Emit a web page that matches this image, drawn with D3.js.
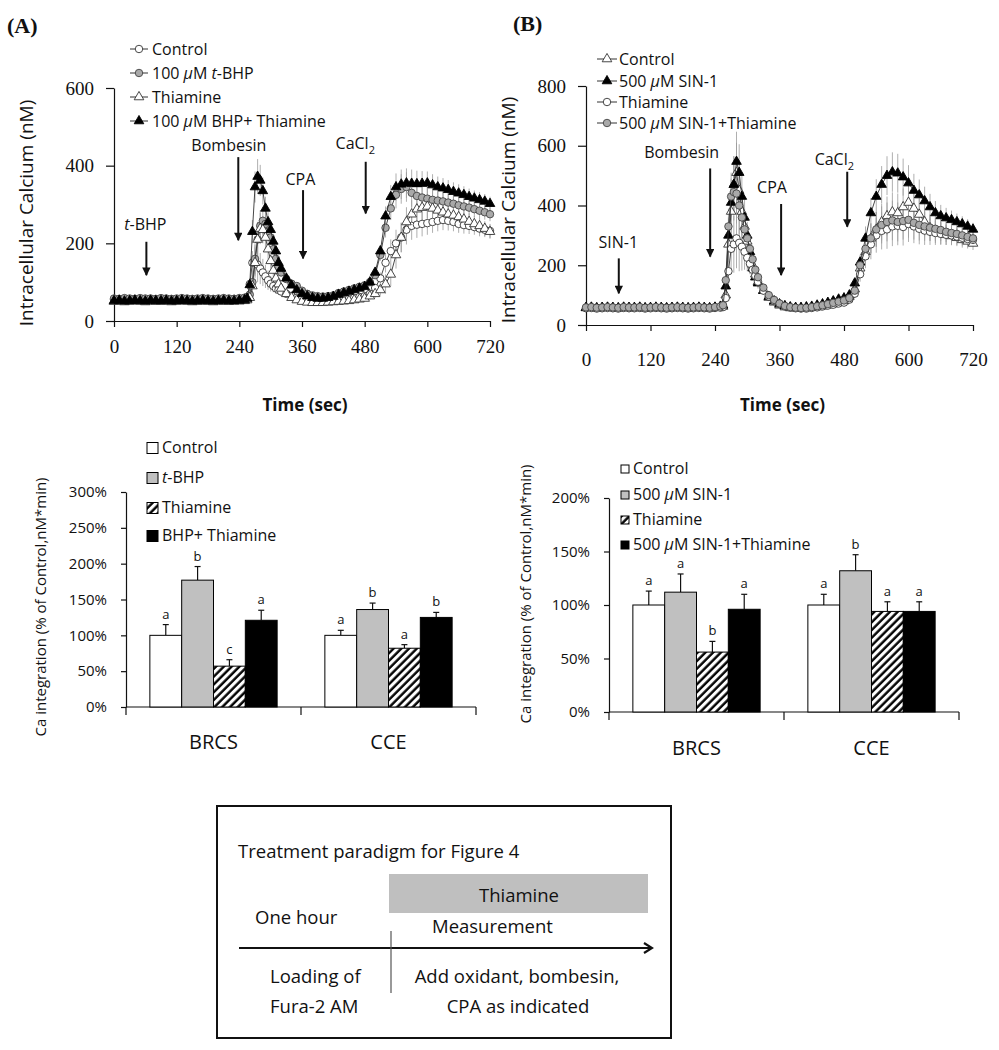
<!DOCTYPE html>
<html>
<head>
<meta charset="utf-8">
<title>Figure 4</title>
<script src="https://d3js.org/d3.v7.min.js"></script>
<style>
    body { margin: 0; background: #fff; }
    text { font-family: "Open Sans", sans-serif; fill: #111; }
</style>
</head>
<body>
<div id="fig"></div>
<script>
// ---- time course data (seconds) ----
var time = [0,10,20,30,40,50,60,70,80,90,
    100,110,120,130,140,150,160,170,180,190,
    200,210,220,230,240,250,255,260,265,270,
    275,280,285,290,295,300,305,310,315,320,
    330,340,350,360,370,380,390,400,410,420,
    430,440,450,460,470,480,490,500,510,520,
    530,540,550,560,570,580,590,600,610,620,
    630,640,650,660,670,680,690,700,710,720];
var xTicks = [0,120,240,360,480,600,720];

// panel A (nM)
var ctrlA = [55,56,54,55,57,55,54,56,55,55,
    56,54,55,57,55,54,55,56,55,54,
    56,55,55,57,56,58,60,95,150,155,
    145,135,125,115,105,96,90,84,80,76,
    70,65,60,57,55,54,53,53,54,55,
    56,57,58,60,62,64,70,85,110,150,
    180,200,215,235,245,248,250,252,255,258,
    260,258,255,250,247,245,242,238,235,232];
var bhpA = [58,57,59,58,57,59,58,58,57,59,
    58,57,58,59,58,57,58,59,58,57,
    58,59,58,57,59,60,62,68,100,160,
    210,245,258,250,230,215,185,160,140,125,
    108,96,90,78,70,66,64,63,64,66,
    72,76,80,84,88,92,100,118,170,240,
    290,325,340,345,330,322,318,315,312,310,
    308,305,302,298,295,292,288,284,280,275];
var thiaA = [50,51,49,50,52,50,49,51,50,50,
    51,49,50,52,50,49,50,51,50,49,
    51,50,50,52,51,52,54,60,90,150,
    210,238,235,215,185,155,130,110,95,84,
    70,60,54,50,48,47,47,47,48,49,
    50,51,52,54,56,58,64,70,80,95,
    120,170,215,255,275,288,292,295,290,285,
    280,275,272,268,262,256,250,245,238,230];
var bhpThiaA = [52,53,51,52,53,52,51,53,52,52,
    53,51,52,53,52,51,52,53,52,51,
    52,53,52,51,53,54,58,93,230,345,
    372,362,335,290,255,235,205,180,150,135,
    110,92,80,70,64,60,58,58,60,63,
    68,72,76,80,84,88,100,125,180,270,
    320,345,352,355,354,353,354,355,350,345,
    342,338,333,329,325,320,316,312,308,302];
var semA = [3,3,3,3,3,3,3,3,3,3,
    3,3,3,3,3,3,3,3,3,3,
    3,3,3,3,3,4,6,15,30,40,
    45,40,35,30,25,20,16,14,12,10,
    8,7,6,5,5,5,5,5,5,5,
    6,6,7,7,8,8,9,10,15,25,
    30,35,38,38,36,34,32,30,28,27,
    26,25,24,23,22,21,20,20,19,18];

// panel B (nM)
var ctrlB = [57,58,56,57,58,57,56,58,57,57,
    58,56,57,58,57,56,57,58,57,56,
    57,58,57,56,58,60,62,100,270,380,
    470,510,450,380,330,280,235,200,170,145,
    115,92,76,66,60,57,56,56,57,58,
    60,63,66,70,75,80,95,120,190,245,
    290,320,345,365,378,375,395,410,390,370,
    345,325,315,308,302,298,292,285,280,273];
var sinB = [58,59,57,58,59,58,57,59,58,58,
    59,57,58,59,58,57,58,59,58,57,
    58,59,58,57,59,62,66,130,300,410,
    470,547,510,430,360,300,245,190,160,140,
    115,95,80,70,64,60,58,58,60,62,
    66,70,75,80,86,90,100,140,210,290,
    375,430,470,500,512,508,495,475,450,435,
    415,395,375,365,358,352,345,338,330,320];
var thiaB = [56,57,55,56,57,56,55,57,56,56,
    57,55,56,57,56,55,56,57,56,55,
    56,57,56,55,57,58,60,90,180,255,
    270,290,275,262,245,225,205,185,165,145,
    115,95,80,70,62,58,56,55,55,57,
    59,62,65,68,72,75,85,105,170,230,
    270,300,315,320,330,332,328,338,330,322,
    316,312,308,305,302,300,296,292,288,285];
var sinThiaB = [59,60,58,59,60,59,58,60,59,59,
    60,58,59,60,59,58,59,60,59,58,
    59,60,59,58,60,62,66,150,330,430,
    445,440,400,360,320,290,255,220,185,160,
    125,100,84,72,64,60,58,57,58,60,
    63,66,70,74,78,82,90,115,200,255,
    290,320,335,345,350,345,348,352,342,335,
    330,326,322,318,312,308,305,300,295,290];
var semB = [4,4,4,4,4,4,4,4,4,4,
    4,4,4,4,4,4,4,4,4,4,
    4,4,4,4,4,5,10,30,60,80,
    95,100,95,80,60,45,35,28,22,18,
    14,12,10,8,7,6,6,6,6,6,
    7,7,8,8,9,10,11,14,25,40,
    50,58,62,65,66,65,62,60,56,52,
    48,44,40,37,34,31,28,26,24,22];

var namesLineA = ["Control", "100 μM t-BHP", "Thiamine", "100 μM BHP+ Thiamine"];
var namesLineB = ["Control", "500 μM SIN-1", "Thiamine", "500 μM SIN-1+Thiamine"];

// ---- bar data (% of control) ----
var barGroups = ["BRCS", "CCE"];
var barNamesA = ["Control", "t-BHP", "Thiamine", "BHP+ Thiamine"];
var barBRCS_A = [100, 177, 57, 121];
var barCCE_A = [100, 136, 82, 125];
var errBRCS_A = [15, 19, 9, 14];
var errCCE_A = [7, 9, 5, 7];
var letBRCS_A = ["a", "b", "c", "a"];
var letCCE_A = ["a", "b", "a", "b"];

var barNamesB = ["Control", "500 μM SIN-1", "Thiamine", "500 μM SIN-1+Thiamine"];
var barBRCS_B = [100, 112, 56, 96];
var barCCE_B = [100, 132, 94, 94];
var errBRCS_B = [13, 17, 10, 14];
var errCCE_B = [10, 15, 9, 9];
var letBRCS_B = ["a", "a", "b", "a"];
var letCCE_B = ["a", "b", "a", "a"];

// ---- svg ----
var svg = d3.select("#fig").append("svg")
    .attr("width", 999)
    .attr("height", 1050);
svg.append("rect").attr("width", 999).attr("height", 1050).attr("fill", "#fff");

var defs = svg.append("defs");
defs.append("marker")
    .attr("id", "arrow")
    .attr("viewBox", "0 0 10 10")
    .attr("refX", 9).attr("refY", 5)
    .attr("markerWidth", 4.5).attr("markerHeight", 4.2)
    .attr("orient", "auto")
    .append("path").attr("d", "M0,0L10,5L0,10z").attr("fill", "#111");
// open chevron head for the time line in the box
defs.append("marker")
    .attr("id", "chev")
    .attr("viewBox", "0 0 12 12")
    .attr("refX", 10).attr("refY", 6)
    .attr("markerWidth", 12).attr("markerHeight", 12)
    .attr("markerUnits", "userSpaceOnUse")
    .attr("orient", "auto")
    .append("path").attr("d", "M2,1L10,6L2,11")
    .attr("fill", "none").attr("stroke", "#111").attr("stroke-width", 2.2);

var hatch = defs.append("pattern")
    .attr("id", "hatch")
    .attr("patternUnits", "userSpaceOnUse")
    .attr("width", 5.5).attr("height", 5.5)
    .attr("patternTransform", "rotate(45)");
hatch.append("rect").attr("width", 5.5).attr("height", 5.5).attr("fill", "#fff");
hatch.append("line").attr("x1", 1.5).attr("x2", 1.5).attr("y1", 0).attr("y2", 5.5)
    .attr("stroke", "#000").attr("stroke-width", 2.4);

// italic t in t-BHP and italic mu
function richText(sel, str) {
    var parts = [];
    var buf = "";
    for (var i = 0; i < str.length; i++) {
        var isT = str.substr(i, 5) === "t-BHP" && (i === 0 || str[i - 1] === " ");
        if (str[i] === "μ" || isT) {
            if (buf) parts.push({ t: buf, it: false });
            buf = "";
            parts.push({ t: str[i], it: true });
        } else {
            buf += str[i];
        }
    }
    if (buf) parts.push({ t: buf, it: false });
    parts.forEach(function(p) {
        sel.append("tspan").text(p.t).attr("font-style", p.it ? "italic" : null);
    });
}

var markStyle = {
    open: { fill: "#fff", stroke: "#333" },
    gray: { fill: "#a9a9a9", stroke: "#444" },
    black: { fill: "#000", stroke: "#000" }
};
function symbolPath(shape) {
    return d3.symbol()
        .type(shape === "circle" ? d3.symbolCircle : d3.symbolTriangle)
        .size(shape === "circle" ? 44 : 40)();
}

function linePanel(cfg) {
    var x = d3.scaleLinear().domain([0, 720]).range([cfg.left, cfg.right]);
    var y = d3.scaleLinear().domain([0, cfg.yMax]).range([cfg.bottom, cfg.top]);
    var g = svg.append("g");

    var xAxis = g.append("g")
        .attr("transform", "translate(0," + cfg.bottom + ")")
        .call(d3.axisBottom(x).tickValues(xTicks).tickSize(6).tickSizeOuter(0).tickPadding(cfg.xPad));
    var yAxis = g.append("g")
        .attr("transform", "translate(" + cfg.left + ",0)")
        .call(d3.axisLeft(y).tickValues(cfg.yTicks).tickSize(8).tickSizeOuter(0).tickPadding(12));
    [xAxis, yAxis].forEach(function(a) {
        a.selectAll("path, line").attr("stroke", "#111").attr("stroke-width", 1.2);
        a.selectAll("text")
            .style("font-family", "'Liberation Serif', serif")
            .attr("font-size", 19).attr("fill", "#111");
    });

    // error bars
    cfg.series.forEach(function(s) {
        g.append("g").selectAll("line")
            .data(s.vals)
            .enter().append("line")
            .attr("x1", function(d, i) { return x(time[i]); })
            .attr("x2", function(d, i) { return x(time[i]); })
            .attr("y1", function(d, i) { return y(d - cfg.sem[i]); })
            .attr("y2", function(d, i) { return y(d + cfg.sem[i]); })
            .attr("stroke", "#9a9a9a").attr("stroke-width", 0.8);
    });

    var line = d3.line()
        .x(function(d, i) { return x(time[i]); })
        .y(function(d) { return y(d); });

    cfg.series.forEach(function(s) {
        g.append("path")
            .datum(s.vals)
            .attr("d", line)
            .attr("fill", "none")
            .attr("stroke", "#333")
            .attr("stroke-width", 0.9);
        var st = markStyle[s.style];
        g.append("g").selectAll("path")
            .data(s.vals)
            .enter().append("path")
            .attr("d", symbolPath(s.shape))
            .attr("transform", function(d, i) { return "translate(" + x(time[i]) + "," + y(d) + ")"; })
            .attr("fill", st.fill)
            .attr("stroke", st.stroke)
            .attr("stroke-width", 0.9);
    });

    // legend
    cfg.series.forEach(function(s, i) {
        var ly = cfg.legY[i];
        var st = markStyle[s.style];
        g.append("line")
            .attr("x1", cfg.legX[0]).attr("x2", cfg.legX[1])
            .attr("y1", ly).attr("y2", ly)
            .attr("stroke", "#333").attr("stroke-width", 1);
        g.append("path")
            .attr("d", symbolPath(s.shape))
            .attr("transform", "translate(" + (cfg.legX[0] + cfg.legX[1]) / 2 + "," + ly + ")")
            .attr("fill", st.fill).attr("stroke", st.stroke).attr("stroke-width", 0.9);
        var t = g.append("text")
            .attr("x", cfg.legX[2]).attr("y", ly + 5.5)
            .attr("font-size", 16);
        richText(t, s.name);
    });

    // event arrows
    cfg.events.forEach(function(e) {
        g.append("line")
            .attr("x1", x(e.t)).attr("x2", x(e.t))
            .attr("y1", y(e.top)).attr("y2", y(e.bot))
            .attr("stroke", "#111").attr("stroke-width", 2)
            .attr("marker-end", "url(#arrow)");
        var t = g.append("text")
            .attr("x", x(e.tx)).attr("y", y(e.ty))
            .attr("text-anchor", "middle")
            .attr("font-size", 16);
        if (e.label === "CaCl2") {
            t.append("tspan").text("CaCl");
            t.append("tspan").text("2").attr("font-size", 11).attr("dy", 5);
        } else {
            richText(t, e.label);
        }
    });

    g.append("text")
        .attr("transform", "translate(" + cfg.yLab[0] + "," + cfg.yLab[1] + ") rotate(-90)")
        .attr("text-anchor", "middle")
        .attr("font-size", 19)
        .text("Intracellular Calcium (nM)");
    g.append("text")
        .attr("x", (cfg.left + cfg.right) / 2 + 3).attr("y", 411)
        .attr("text-anchor", "middle")
        .attr("font-size", 17).attr("font-weight", "bold")
        .text("Time (sec)");
    g.append("text")
        .attr("x", cfg.tag[0]).attr("y", cfg.tag[1])
        .style("font-family", "'Liberation Serif', serif")
        .attr("font-size", 22).attr("font-weight", "bold")
        .text(cfg.tagText);
}

linePanel({
    left: 114, right: 490, top: 88, bottom: 321, yMax: 600,
    yTicks: [0, 200, 400, 600], xPad: 13, sem: semA,
    series: [
        { name: namesLineA[0], vals: ctrlA, shape: "circle", style: "open" },
        { name: namesLineA[1], vals: bhpA, shape: "circle", style: "gray" },
        { name: namesLineA[2], vals: thiaA, shape: "triangle", style: "open" },
        { name: namesLineA[3], vals: bhpThiaA, shape: "triangle", style: "black" }
    ],
    legX: [130, 148, 152], legY: [49, 73, 97, 121],
    events: [
        { label: "t-BHP", t: 62, top: 204, bot: 118, tx: 60, ty: 234 },
        { label: "Bombesin", t: 238, top: 422, bot: 208, tx: 220, ty: 437 },
        { label: "CPA", t: 362, top: 337, bot: 161, tx: 357, ty: 350 },
        { label: "CaCl2", t: 482, top: 410, bot: 277, tx: 462, ty: 443 }
    ],
    yLab: [33, 213], tag: [7, 33], tagText: "(A)"
});

linePanel({
    left: 586, right: 973, top: 86, bottom: 325, yMax: 800,
    yTicks: [0, 200, 400, 600, 800], xPad: 22, sem: semB,
    series: [
        { name: namesLineB[0], vals: ctrlB, shape: "triangle", style: "open" },
        { name: namesLineB[1], vals: sinB, shape: "triangle", style: "black" },
        { name: namesLineB[2], vals: thiaB, shape: "circle", style: "open" },
        { name: namesLineB[3], vals: sinThiaB, shape: "circle", style: "gray" }
    ],
    legX: [597, 617, 619], legY: [59, 81, 102, 123],
    events: [
        { label: "SIN-1", t: 61, top: 223, bot: 106, tx: 60, ty: 258 },
        { label: "Bombesin", t: 231, top: 524, bot: 229, tx: 178, ty: 558 },
        { label: "CPA", t: 363, top: 405, bot: 167, tx: 346, ty: 441 },
        { label: "CaCl2", t: 486, top: 513, bot: 329, tx: 462, ty: 535 }
    ],
    yLab: [515, 210], tag: [513, 31], tagText: "(B)"
});

// ---- bar panels ----
var barFills = ["#fff", "#c0c0c0", "url(#hatch)", "#000"];

function barPanel(cfg) {
    var x0 = d3.scaleBand().domain(barGroups).range([cfg.left, cfg.right]);
    var x1 = d3.scaleBand().domain(d3.range(4)).range([0, x0.bandwidth()]).paddingOuter(0.75);
    var y = d3.scaleLinear().domain([0, cfg.yMax]).range([cfg.bottom, cfg.top]);
    var g = svg.append("g");

    var yAxis = g.append("g")
        .attr("transform", "translate(" + cfg.left + ",0)")
        .call(d3.axisLeft(y).tickValues(d3.range(0, cfg.yMax + 1, 50))
            .tickFormat(function(d) { return d + "%"; })
            .tickSize(5).tickSizeOuter(0).tickPadding(14));
    yAxis.selectAll("path, line").attr("stroke", "#111").attr("stroke-width", 1.2);
    yAxis.selectAll("text").attr("font-size", 15).attr("fill", "#333")
        .style("font-family", "'Open Sans', sans-serif");

    // x axis with ticks between groups
    g.append("line")
        .attr("x1", cfg.left).attr("x2", cfg.right)
        .attr("y1", cfg.bottom).attr("y2", cfg.bottom)
        .attr("stroke", "#111").attr("stroke-width", 1.2);
    var edges = barGroups.map(function(c) { return x0(c); }).concat([cfg.right]);
    g.selectAll(".xt").data(edges).enter().append("line")
        .attr("x1", function(d) { return d; }).attr("x2", function(d) { return d; })
        .attr("y1", cfg.bottom).attr("y2", cfg.bottom + 8)
        .attr("stroke", "#111").attr("stroke-width", 1.2);
    g.selectAll(".xl").data(barGroups).enter().append("text")
        .attr("x", function(d) { return x0(d) + x0.bandwidth() / 2; })
        .attr("y", cfg.catY)
        .attr("text-anchor", "middle")
        .attr("font-size", 20)
        .text(function(d) { return d; });

    cfg.groups.forEach(function(grp, gi) {
        var gx = x0(barGroups[gi]);
        var bw = x1.bandwidth();
        var gg = g.append("g").attr("transform", "translate(" + gx + ",0)");
        gg.selectAll("line.err").data(grp.vals).enter().append("line")
            .attr("x1", function(d, i) { return x1(i) + bw / 2; })
            .attr("x2", function(d, i) { return x1(i) + bw / 2; })
            .attr("y1", function(d) { return y(d); })
            .attr("y2", function(d, i) { return y(d + grp.err[i]); })
            .attr("stroke", "#111").attr("stroke-width", 1.2);
        gg.selectAll("line.cap").data(grp.vals).enter().append("line")
            .attr("x1", function(d, i) { return x1(i) + bw / 2 - 3; })
            .attr("x2", function(d, i) { return x1(i) + bw / 2 + 3; })
            .attr("y1", function(d, i) { return y(d + grp.err[i]); })
            .attr("y2", function(d, i) { return y(d + grp.err[i]); })
            .attr("stroke", "#111").attr("stroke-width", 1.2);
        gg.selectAll("rect").data(grp.vals).enter().append("rect")
            .attr("x", function(d, i) { return x1(i); })
            .attr("y", function(d) { return y(d); })
            .attr("width", bw)
            .attr("height", function(d) { return cfg.bottom - y(d); })
            .attr("fill", function(d, i) { return barFills[i]; })
            .attr("stroke", "#000").attr("stroke-width", 1);
        gg.selectAll("text").data(grp.vals).enter().append("text")
            .attr("x", function(d, i) { return x1(i) + bw / 2; })
            .attr("y", function(d, i) { return y(d + grp.err[i]) - 6; })
            .attr("text-anchor", "middle")
            .attr("font-size", 13).attr("fill", "#222")
            .text(function(d, i) { return grp.lets[i]; });
    });

    // legend
    cfg.names.forEach(function(n, i) {
        var ly = cfg.legY[i];
        g.append("rect")
            .attr("x", cfg.legX).attr("y", ly - cfg.sq / 2)
            .attr("width", cfg.sq).attr("height", cfg.sq)
            .attr("fill", barFills[i]).attr("stroke", "#000").attr("stroke-width", 1);
        var t = g.append("text")
            .attr("x", cfg.legX + cfg.sq + 4).attr("y", ly + 5)
            .attr("font-size", 16);
        richText(t, n);
    });

    g.append("text")
        .attr("transform", "translate(" + cfg.yLab[0] + "," + cfg.yLab[1] + ") rotate(-90)")
        .attr("text-anchor", "middle")
        .attr("font-size", 15)
        .attr("fill", "#333")
        .text("Ca integration (% of Control,nM*min)");
}

barPanel({
    left: 126, right: 476, top: 492, bottom: 707, yMax: 300, catY: 749,
    groups: [
        { vals: barBRCS_A, err: errBRCS_A, lets: letBRCS_A },
        { vals: barCCE_A, err: errCCE_A, lets: letCCE_A }
    ],
    names: barNamesA, legX: 147, sq: 11, legY: [448, 478, 508, 536],
    yLab: [46, 607]
});

barPanel({
    left: 609, right: 959, top: 498, bottom: 712, yMax: 200, catY: 755,
    groups: [
        { vals: barBRCS_B, err: errBRCS_B, lets: letBRCS_B },
        { vals: barCCE_B, err: errCCE_B, lets: letCCE_B }
    ],
    names: barNamesB, legX: 621, sq: 8, legY: [469, 495, 520, 545],
    yLab: [531, 594]
});

// ---- treatment paradigm box ----
var box = svg.append("g");
box.append("rect")
    .attr("x", 217).attr("y", 806).attr("width", 454).attr("height", 232)
    .attr("fill", "#fff").attr("stroke", "#111").attr("stroke-width", 2);
box.append("rect")
    .attr("x", 389).attr("y", 874).attr("width", 259).attr("height", 39)
    .attr("fill", "#bfbfbf");
box.append("line")
    .attr("x1", 239).attr("x2", 652).attr("y1", 948).attr("y2", 948)
    .attr("stroke", "#111").attr("stroke-width", 2)
    .attr("marker-end", "url(#chev)");
box.append("line")
    .attr("x1", 391).attr("x2", 391).attr("y1", 931).attr("y2", 993)
    .attr("stroke", "#555").attr("stroke-width", 1.2);
var boxText = [
    { s: "Treatment paradigm for Figure 4", x: 238, y: 858, a: "start" },
    { s: "Thiamine", x: 519, y: 902, a: "middle" },
    { s: "One hour", x: 255, y: 924, a: "start" },
    { s: "Measurement", x: 432, y: 933, a: "start" },
    { s: "Loading of", x: 270, y: 983, a: "start" },
    { s: "Fura-2 AM", x: 270, y: 1013, a: "start" },
    { s: "Add oxidant, bombesin,", x: 517, y: 983, a: "middle" },
    { s: "CPA as indicated", x: 518, y: 1013, a: "middle" }
];
box.selectAll("text.bt").data(boxText).enter().append("text")
    .attr("x", function(d) { return d.x; })
    .attr("y", function(d) { return d.y; })
    .attr("text-anchor", function(d) { return d.a; })
    .attr("font-size", 18.5)
    .attr("fill", "#222")
    .text(function(d) { return d.s; });
</script>
</body>
</html>
